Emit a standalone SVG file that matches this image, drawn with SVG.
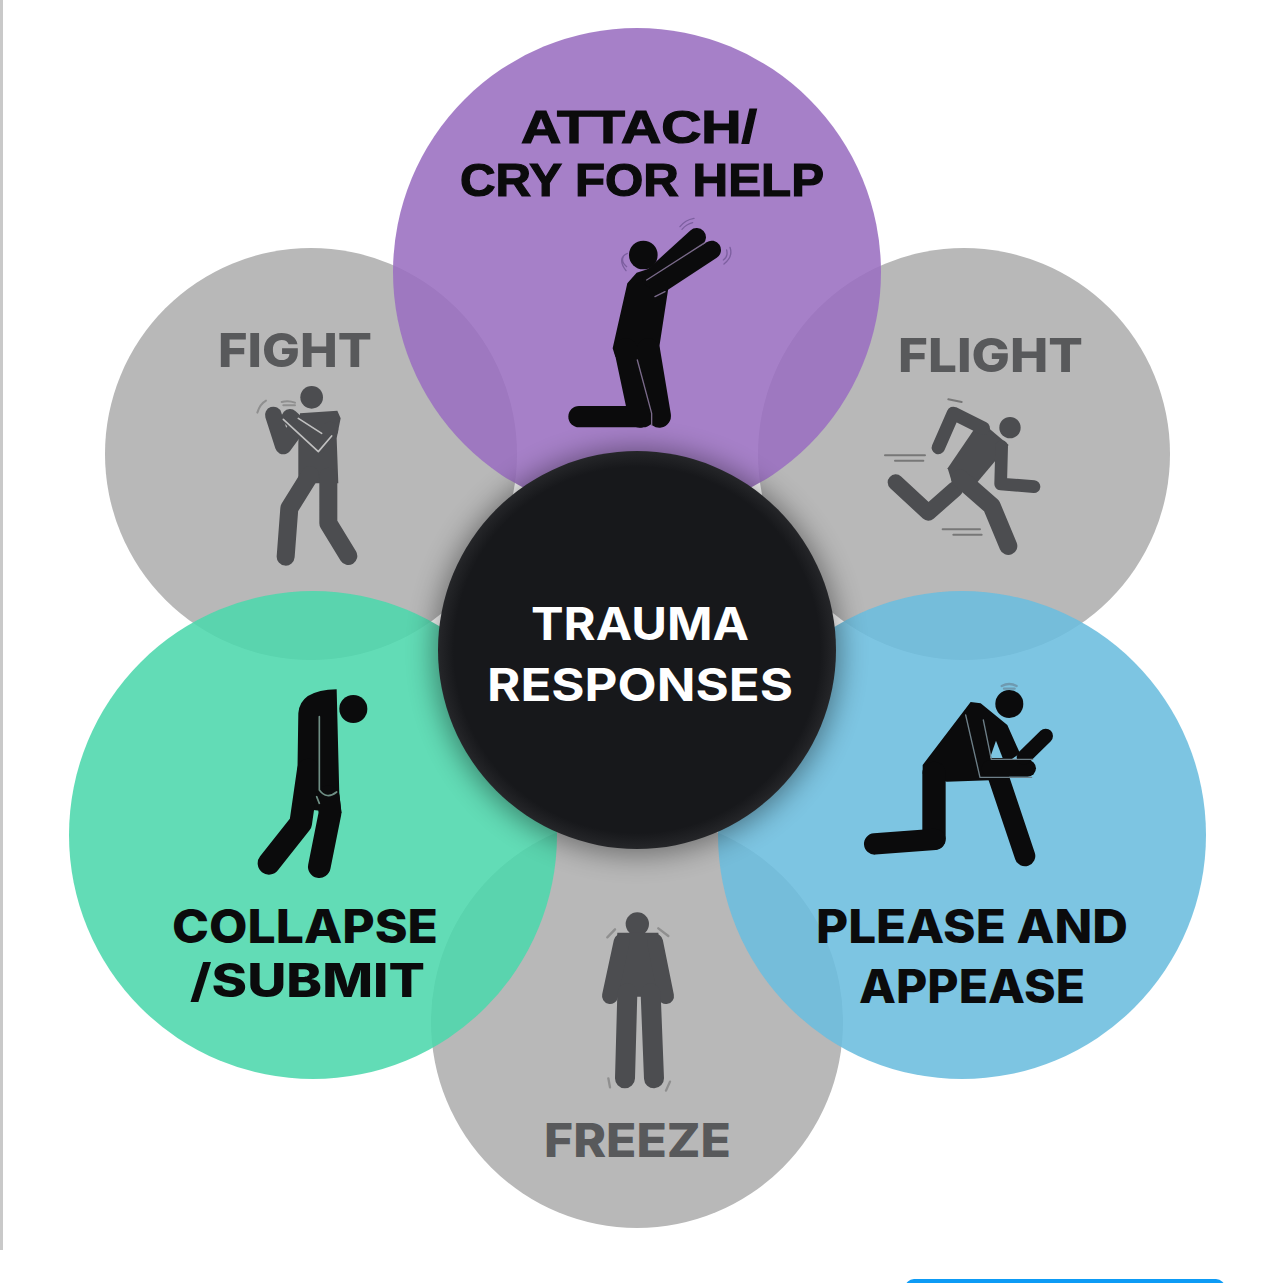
<svg xmlns="http://www.w3.org/2000/svg" width="1268" height="1283" viewBox="0 0 1268 1283">
<defs>
<filter id="sh" x="-30%" y="-30%" width="160%" height="160%"><feGaussianBlur stdDeviation="14"/></filter>
<radialGradient id="cg" cx="50%" cy="50%" r="50%"><stop offset="0.92" stop-color="#17181b"/><stop offset="1" stop-color="#252629"/></radialGradient>
</defs>
<style>
.t{font-family:Inter,"Liberation Sans",sans-serif;font-weight:800;text-anchor:start}
.a{font-family:"Liberation Sans",Arial,sans-serif;font-weight:700;stroke:#0b0b0c;stroke-width:1.2;text-anchor:start}
.k{fill:#0b0b0c}
.f{fill:#4c4d50}
.lk{fill:none;stroke:#0b0b0c;stroke-linecap:round;stroke-linejoin:round}
.lg{fill:none;stroke:#4c4d50;stroke-linecap:round;stroke-linejoin:round}
.hl{fill:none;stroke-linecap:round;stroke-linejoin:round}
</style>
<rect width="1268" height="1283" fill="#fff"/>
<rect x="0" y="0" width="3" height="1250" fill="#c9c9c9"/>
<rect x="905" y="1279" width="320" height="20" rx="9" fill="#0d9bf5"/>

<g id="node-fight">
<circle cx="311" cy="454" r="206" fill="#b8b8b8"/>
</g>
<g id="node-flight">
<circle cx="964" cy="454" r="206" fill="#b8b8b8"/>
</g>
<g id="node-freeze">
<circle cx="637" cy="1022" r="206" fill="#b8b8b8"/>
</g>
<g id="node-attach">
<circle cx="637" cy="272" r="244" fill="#9a6ec0" fill-opacity="0.88"/>
</g>
<g id="node-collapse">
<circle cx="313" cy="835" r="244" fill="#4cd7ac" fill-opacity="0.88"/>
</g>
<g id="node-please">
<circle cx="962" cy="835" r="244" fill="#6bbdde" fill-opacity="0.88"/>
</g>
<g id="node-center">
<circle cx="637" cy="652" r="203" fill="#000" opacity="0.4" filter="url(#sh)"/>
<circle cx="637" cy="650" r="199" fill="url(#cg)"/>
<text class="t" x="531" y="640" font-size="45" textLength="218" lengthAdjust="spacingAndGlyphs" fill="#fff" style="font-weight:700">TRAUMA</text>
<text class="t" x="487" y="701" font-size="45" textLength="306" lengthAdjust="spacingAndGlyphs" fill="#fff" style="font-weight:700">RESPONSES</text>
</g>

<g id="figure-attach" transform="translate(520 200) scale(.3333)">
<circle class="k" cx="370" cy="165" r="43"/>
<path class="k" d="M322 250L350 218L405 200L445 265L418 440L420 480L286 470L278 445Z"/>
<path class="lk" stroke-width="56" d="M395 235L530 112"/>
<path class="lk" stroke-width="56" d="M415 255L575 150"/>
<path class="lk" stroke-width="70" d="M318 450L360 648M385 450L418 648"/>
<path class="lk" stroke-width="64" d="M177 650H370"/>
<path class="hl" stroke="#7a6a8a" stroke-width="4" d="M380 240L555 128M405 290L435 275M352 480L395 640V675"/>
<path class="hl" stroke="#7d5fa0" stroke-width="4" d="M480 80Q495 60 522 55M486 88Q500 72 518 68M630 142Q640 170 612 192M620 150Q625 170 610 180M322 160Q290 175 318 212M310 170Q302 185 320 200"/>
</g>
<g id="figure-fight" transform="translate(230 380) scale(.3333)">
<circle class="f" cx="245" cy="52" r="34"/>
<path class="f" d="M210 100L322 92L332 115L320 175L325 310L205 310L205 190Z"/>
<path class="lg" stroke-width="50" d="M130 105L160 198L195 150"/>
<path class="lg" stroke-width="50" d="M180 112L268 192L300 150"/>
<path class="lg" stroke-width="54" d="M240 285L178 385L167 530M295 290V430L355 528"/>
<path class="hl" stroke="#c0c0c0" stroke-width="5" d="M160 118L265 215L305 168M205 115L275 160"/>
<path class="hl" stroke="#8f8f8f" stroke-width="6" d="M82 98Q90 72 108 62M155 66Q175 60 195 68M160 76H195"/>
</g>
<g id="figure-flight" transform="translate(870 380) scale(.3333)">
<circle class="f" cx="420" cy="143" r="32"/>
<path class="f" d="M330 122L416 195L315 315L250 320L233 265Z"/>
<path class="lg" stroke-width="40" d="M205 203L250 100L340 145"/>
<path class="lg" stroke-width="38" d="M395 200L392 312L492 320"/>
<path class="lg" stroke-width="48" d="M77 307L175 398L255 328"/>
<path class="lg" stroke-width="54" d="M270 295L365 378L415 498"/>
<path class="hl" stroke="#777" stroke-width="6" d="M45 226H165M75 242H160M218 448H330M250 464H335M235 58L275 66"/>
</g>
<g id="figure-please" transform="translate(850 670) scale(.3333)">
<circle class="k" cx="478" cy="102" r="42"/>
<path class="k" d="M362 96L392 100L472 165L510 250L460 285L440 330L290 335L218 310L218 285Z"/>
<path fill="#7dc5e2" d="M438 212L458 264H420Z"/>
<path class="lk" stroke-width="70" d="M252 310V505"/>
<path class="lk" stroke-width="64" d="M74 522L255 508"/>
<path class="lk" stroke-width="62" d="M445 320L525 558"/>
<path class="lk" stroke-width="50" d="M420 295H533"/>
<path class="lk" stroke-width="44" d="M522 262L587 198"/>
<path class="hl" stroke="#6d7f88" stroke-width="4" d="M347 135L390 322H545M400 150L424 268H548"/>
<path class="hl" stroke="#6f9ab0" stroke-width="7" d="M455 48Q478 36 500 48M462 56H494"/>
</g>
<g id="figure-collapse" transform="translate(240 670) scale(.3333)">
<circle class="k" cx="340" cy="117" r="42"/>
<path class="k" d="M175 130Q180 60 290 58L298 375L305 430L220 420L172 330Z"/>
<path class="lk" stroke-width="68" d="M205 300L182 460L87 580"/>
<path class="lk" stroke-width="68" d="M265 380L270 430L238 590"/>
<path class="hl" stroke="#6f8f85" stroke-width="5" d="M238 140V360Q260 390 290 366M230 380L238 400"/>
</g>
<g id="figure-freeze" transform="translate(580 900) scale(.3333)">
<circle class="f" cx="172" cy="72" r="35"/>
<path class="f" d="M112 98H235L250 290H100Z"/>
<path class="lg" stroke-width="48" d="M125 125L90 288M225 125L258 288"/>
<path class="lg" stroke-width="60" d="M142 280L135 535M212 280L222 535"/>
<path class="hl" stroke="#8f8f8f" stroke-width="7" d="M82 112L105 88M235 85L265 108M85 535L90 562M270 545L258 572"/>
</g>

<text class="a" x="521" y="143" font-size="47" textLength="236" lengthAdjust="spacingAndGlyphs" fill="#0b0b0c">ATTACH/</text>
<text class="a" x="460" y="196" font-size="47" textLength="364" lengthAdjust="spacingAndGlyphs" fill="#0b0b0c">CRY FOR HELP</text>
<text class="t" x="218" y="367" font-size="46" textLength="154" lengthAdjust="spacingAndGlyphs" fill="#58595b">FIGHT</text>
<text class="t" x="898" y="372" font-size="46" textLength="185" lengthAdjust="spacingAndGlyphs" fill="#58595b">FLIGHT</text>
<text class="t" x="172" y="943" font-size="46" textLength="266" lengthAdjust="spacingAndGlyphs" fill="#0b0b0c">COLLAPSE</text>
<text class="t" x="190" y="997" font-size="46" textLength="235" lengthAdjust="spacingAndGlyphs" fill="#0b0b0c">/SUBMIT</text>
<text class="t" x="816" y="943" font-size="46" textLength="312" lengthAdjust="spacingAndGlyphs" fill="#0b0b0c">PLEASE AND</text>
<text class="t" x="859" y="1003" font-size="46" textLength="226" lengthAdjust="spacingAndGlyphs" fill="#0b0b0c">APPEASE</text>
<text class="t" x="544" y="1157" font-size="46" textLength="187" lengthAdjust="spacingAndGlyphs" fill="#58595b">FREEZE</text>
</svg>
